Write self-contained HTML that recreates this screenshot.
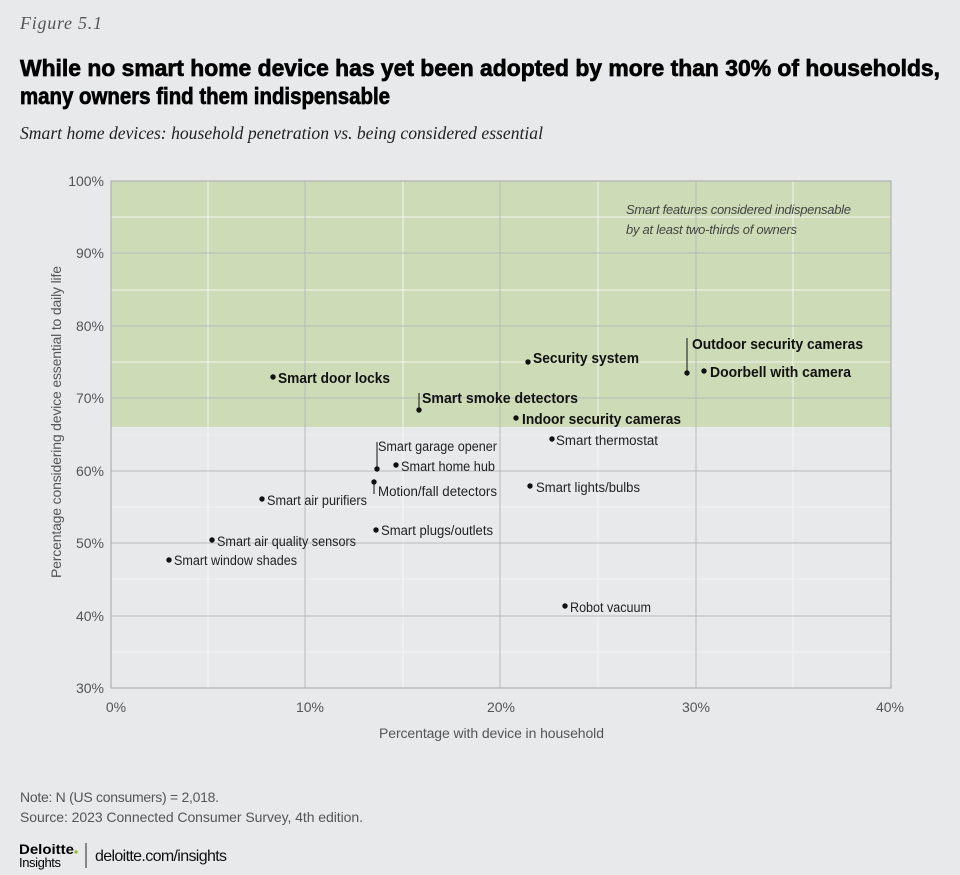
<!DOCTYPE html>
<html><head><meta charset="utf-8"><style>
html,body{margin:0;padding:0;background:#e8e9eb;}
svg{display:block;}
text{font-family:"Liberation Sans Narrow","Liberation Sans",sans-serif;}
.s{font-family:"Liberation Serif",serif;font-style:italic;}
.b{font-weight:bold;font-size:15px;fill:#111;}
.r{font-size:13.5px;fill:#222;}
.t{font-size:14px;fill:#555;}
</style></head><body>
<svg width="960" height="875" viewBox="0 0 960 875" xmlns="http://www.w3.org/2000/svg">
<rect width="960" height="875" fill="#e8e9eb"/>
<text class="s" x="20" y="29" font-size="18" fill="#555" textLength="82">Figure 5.1</text>
<text x="20" y="76" font-size="23" font-weight="bold" fill="#000" stroke="#000" stroke-width="0.7" style="font-family:'Liberation Sans',sans-serif" textLength="920" lengthAdjust="spacingAndGlyphs">While no smart home device has yet been adopted by more than 30% of households,</text>
<text x="20" y="104" font-size="23" font-weight="bold" fill="#000" stroke="#000" stroke-width="0.7" style="font-family:'Liberation Sans',sans-serif" textLength="370" lengthAdjust="spacingAndGlyphs">many owners find them indispensable</text>
<text class="s" x="20" y="139" font-size="18" fill="#222" textLength="523" lengthAdjust="spacingAndGlyphs">Smart home devices: household penetration vs. being considered essential</text>

<!-- plot -->
<rect x="111" y="181" width="780" height="507" fill="#e8e9eb"/>
<rect x="111" y="181" width="780" height="246" fill="#cddbb7"/>
<g stroke="#f4f5f2" stroke-width="1">
<line x1="111" y1="217" x2="891" y2="217"/><line x1="111" y1="290" x2="891" y2="290"/><line x1="111" y1="362" x2="891" y2="362"/><line x1="111" y1="435" x2="891" y2="435" stroke="#f0f0f0"/><line x1="111" y1="507" x2="891" y2="507"/><line x1="111" y1="579" x2="891" y2="579"/><line x1="111" y1="652" x2="891" y2="652"/>
<line x1="208" y1="181" x2="208" y2="688"/><line x1="403" y1="181" x2="403" y2="688"/><line x1="598" y1="181" x2="598" y2="688"/><line x1="793" y1="181" x2="793" y2="688"/>
</g>
<g stroke="#b8b9b9" stroke-width="1">
<line x1="111" y1="253" x2="891" y2="253"/><line x1="111" y1="326" x2="891" y2="326"/><line x1="111" y1="398" x2="891" y2="398"/><line x1="111" y1="471" x2="891" y2="471"/><line x1="111" y1="543" x2="891" y2="543"/><line x1="111" y1="616" x2="891" y2="616"/>
<line x1="305" y1="181" x2="305" y2="688"/><line x1="500" y1="181" x2="500" y2="688"/><line x1="696" y1="181" x2="696" y2="688"/>
</g>
<rect x="111" y="181" width="780" height="507" fill="none" stroke="#b0b1b1" stroke-width="1.2"/>

<g class="t" text-anchor="end">
<text x="104" y="186" class="t">100%</text><text x="104" y="258" class="t">90%</text><text x="104" y="331" class="t">80%</text><text x="104" y="403" class="t">70%</text><text x="104" y="476" class="t">60%</text><text x="104" y="548" class="t">50%</text><text x="104" y="621" class="t">40%</text><text x="104" y="693" class="t">30%</text>
</g>
<g text-anchor="middle">
<text x="116" y="712" class="t">0%</text><text x="310" y="712" class="t">10%</text><text x="501" y="712" class="t">20%</text><text x="696" y="712" class="t">30%</text><text x="890" y="712" class="t">40%</text>
</g>
<text x="379" y="738" class="t" textLength="225">Percentage with device in household</text>
<text transform="translate(61,578) rotate(-90)" class="t" textLength="312">Percentage considering device essential to daily life</text>

<text x="626" y="214" font-size="13" fill="#444" style="font-style:italic" textLength="225">Smart features considered indispensable</text>
<text x="626" y="234" font-size="13" fill="#444" style="font-style:italic" textLength="171">by at least two-thirds of owners</text>

<g fill="#111" stroke="#111" stroke-width="1">
<line x1="419" y1="410" x2="419" y2="393"/>
<line x1="687" y1="373" x2="687" y2="338"/>
<line x1="377" y1="469" x2="377" y2="442"/>
<line x1="374" y1="482" x2="374" y2="494"/>
</g>
<g fill="#111">
<circle cx="273" cy="377" r="2.7"/><circle cx="419" cy="410" r="2.7"/><circle cx="528" cy="362" r="2.7"/><circle cx="687" cy="373" r="2.7"/><circle cx="704" cy="371" r="2.7"/><circle cx="516" cy="418" r="2.7"/><circle cx="552" cy="439" r="2.7"/><circle cx="377" cy="469" r="2.7"/><circle cx="396" cy="465" r="2.7"/><circle cx="374" cy="482" r="2.7"/><circle cx="530" cy="486" r="2.7"/><circle cx="262" cy="499" r="2.7"/><circle cx="376" cy="530" r="2.7"/><circle cx="212" cy="540" r="2.7"/><circle cx="169" cy="560" r="2.7"/><circle cx="565" cy="606" r="2.7"/>
</g>
<g>
<text class="b" x="278" y="383" textLength="112" lengthAdjust="spacingAndGlyphs">Smart door locks</text>
<text class="b" x="422" y="403" textLength="156" lengthAdjust="spacingAndGlyphs">Smart smoke detectors</text>
<text class="b" x="533" y="363" textLength="106" lengthAdjust="spacingAndGlyphs">Security system</text>
<text class="b" x="692" y="349" textLength="171" lengthAdjust="spacingAndGlyphs">Outdoor security cameras</text>
<text class="b" x="710" y="377" textLength="141" lengthAdjust="spacingAndGlyphs">Doorbell with camera</text>
<text class="b" x="522" y="424" textLength="159" lengthAdjust="spacingAndGlyphs">Indoor security cameras</text>
<text class="r" x="556" y="445" textLength="102" lengthAdjust="spacingAndGlyphs">Smart thermostat</text>
<text class="r" x="378" y="451" textLength="119" lengthAdjust="spacingAndGlyphs">Smart garage opener</text>
<text class="r" x="401" y="471" textLength="94" lengthAdjust="spacingAndGlyphs">Smart home hub</text>
<text class="r" x="378" y="496" textLength="119" lengthAdjust="spacingAndGlyphs">Motion/fall detectors</text>
<text class="r" x="536" y="492" textLength="104" lengthAdjust="spacingAndGlyphs">Smart lights/bulbs</text>
<text class="r" x="267" y="505" textLength="100" lengthAdjust="spacingAndGlyphs">Smart air purifiers</text>
<text class="r" x="381" y="535" textLength="112" lengthAdjust="spacingAndGlyphs">Smart plugs/outlets</text>
<text class="r" x="217" y="546" textLength="139" lengthAdjust="spacingAndGlyphs">Smart air quality sensors</text>
<text class="r" x="174" y="565" textLength="123" lengthAdjust="spacingAndGlyphs">Smart window shades</text>
<text class="r" x="570" y="612" textLength="81" lengthAdjust="spacingAndGlyphs">Robot vacuum</text>
</g>

<text x="20" y="802" class="t" textLength="199">Note: N (US consumers) = 2,018.</text>
<text x="20" y="822" class="t" textLength="343">Source: 2023 Connected Consumer Survey, 4th edition.</text>
<text x="19" y="854" font-size="14" font-weight="bold" fill="#000" style="font-family:'Liberation Sans',sans-serif" textLength="55" lengthAdjust="spacingAndGlyphs">Deloitte</text>
<circle cx="76" cy="852" r="1.6" fill="#86bc25"/>
<text x="19" y="867" font-size="13" fill="#000" textLength="42">Insights</text>
<line x1="86" y1="843" x2="86" y2="868" stroke="#222" stroke-width="1"/>
<text x="95" y="861" font-size="16" fill="#111" textLength="132">deloitte.com/insights</text>
</svg>
</body></html>
